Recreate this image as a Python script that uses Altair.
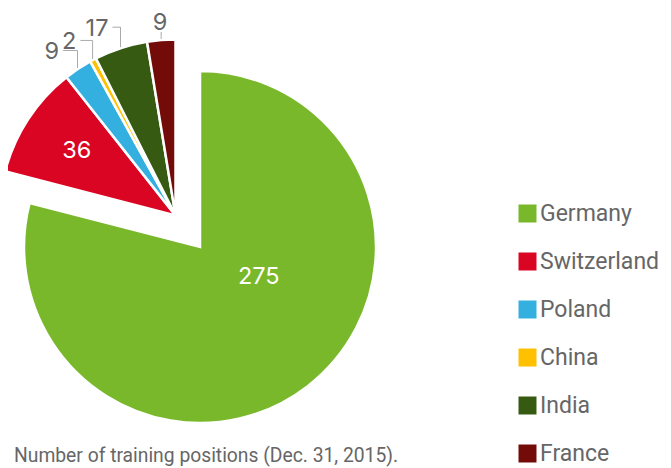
import altair as alt
import pandas as pd

countries = ["Germany", "Switzerland", "Poland", "China", "India", "France"]
values = [275, 36, 9, 2, 17, 9]
colors = ["#78B82A", "#DA0522", "#33B0DF", "#FFC000", "#375A13", "#730C08"]
caption = "Number of training positions (Dec. 31, 2015)."

df = pd.DataFrame({"country": countries, "value": values, "order": list(range(len(countries)))})
df["label"] = df["value"].astype(str)

CX, CY, R, D = 192, 239, 176, 40
NUMFONT = "Inter"
FONT = "Roboto"
GRAY = "#666666"
LINE = "#AAAAAA"

base = alt.Chart(df).transform_joinaggregate(
    total="sum(value)"
).transform_window(
    cum="sum(value)", sort=[alt.SortField("order")], frame=[None, 0]
).transform_calculate(
    t1="datum.cum / datum.total * 2 * PI",
    t0="(datum.cum - datum.value) / datum.total * 2 * PI",
    gval="datum.country == 'Germany' ? datum.value : 0",
).transform_calculate(
    mid="(datum.t0 + datum.t1) / 2"
).transform_joinaggregate(
    gsum="sum(gval)"
).transform_calculate(
    gmid="(datum.gsum / datum.total * 2 * PI + 2 * PI) / 2",
    ex="datum.country == 'Germany' ? 0 : 1",
).transform_calculate(
    cx=f"{CX} + datum.ex * {D} * sin(datum.gmid)",
    cy=f"{CY} - datum.ex * {D} * cos(datum.gmid)",
)

arcs = base.mark_arc(stroke="white", strokeWidth=2.5).encode(
    x=alt.X("cx:Q", scale=None),
    y=alt.Y("cy:Q", scale=None),
    theta=alt.Theta("t0:Q", scale=None),
    theta2="t1:Q",
    radius=alt.value(R),
    color=alt.Color("country:N", scale=alt.Scale(domain=countries, range=colors),
                    sort=countries,
                    legend=alt.Legend(title=None, orient="none", legendX=508, legendY=194,
                                      symbolType="square", symbolSize=324, symbolStrokeWidth=0,
                                      labelFont=FONT, labelFontSize=23, labelColor=GRAY,
                                      rowPadding=24, labelOffset=1, padding=0)),
    order=alt.Order("order:Q"),
)

inner = base.transform_filter("datum.value >= 30").transform_calculate(
    la="datum.country == 'Germany' ? datum.mid - 0.44 : datum.mid",
    lr=f"datum.country == 'Germany' ? 66 : {R} * 0.67",
).transform_calculate(
    lx="datum.cx + datum.lr * sin(datum.la)",
    ly="datum.cy - datum.lr * cos(datum.la)",
).mark_text(color="white", font=NUMFONT, fontSize=23.5, align="center", baseline="middle").encode(
    x=alt.X("lx:Q", scale=None), y=alt.Y("ly:Q", scale=None), text="label:N"
)

outer_base = base.transform_filter("datum.value < 30").transform_calculate(
    xe=f"datum.cx + ({R} + 1) * sin(datum.mid)",
    ye=f"datum.cy - ({R} + 1) * cos(datum.mid)",
    yl=f"datum.cy - ({R} + 22) * cos(datum.mid)",
    h="-26 * sin(datum.mid)",
).transform_calculate(
    elbow="datum.h > 4 ? 1 : 0",
).transform_calculate(
    vtop="datum.elbow ? datum.yl : datum.ye - 7",
    hx2="datum.xe - (datum.elbow ? datum.h : 0)",
)

vlines = outer_base.mark_rule(color=LINE, strokeWidth=1).encode(
    x=alt.X("xe:Q", scale=None), y=alt.Y("ye:Q", scale=None), y2="vtop:Q"
)
hlines = outer_base.transform_filter("datum.elbow == 1").mark_rule(color=LINE, strokeWidth=1).encode(
    x=alt.X("xe:Q", scale=None), x2="hx2:Q", y=alt.Y("vtop:Q", scale=None)
)
outer_elbow = outer_base.transform_filter("datum.elbow == 1").transform_calculate(
    tx="datum.hx2 - 4", ty="datum.vtop + 8.5"
).mark_text(color=GRAY, font=NUMFONT, fontSize=23.5, align="right", baseline="alphabetic").encode(
    x=alt.X("tx:Q", scale=None), y=alt.Y("ty:Q", scale=None), text="label:N"
)
outer_straight = outer_base.transform_filter("datum.elbow == 0").transform_calculate(
    tx="datum.xe - 1", ty="datum.vtop - 2"
).mark_text(color=GRAY, font=NUMFONT, fontSize=23.5, align="center", baseline="alphabetic").encode(
    x=alt.X("tx:Q", scale=None), y=alt.Y("ty:Q", scale=None), text="label:N"
)

cap = alt.Chart(pd.DataFrame({"t": [caption]})).mark_text(
    color=GRAY, font=FONT, fontSize=19.3, align="left", baseline="alphabetic"
).encode(x=alt.value(6), y=alt.value(454), text="t:N")

chart = alt.layer(arcs, vlines, hlines, inner, outer_elbow, outer_straight, cap).properties(
    width=655, height=460, autosize=alt.AutoSizeParams(type="none"), padding=0
).configure_view(stroke=None)

chart.save("out.html", embed_options={"renderer": "svg", "actions": False})
